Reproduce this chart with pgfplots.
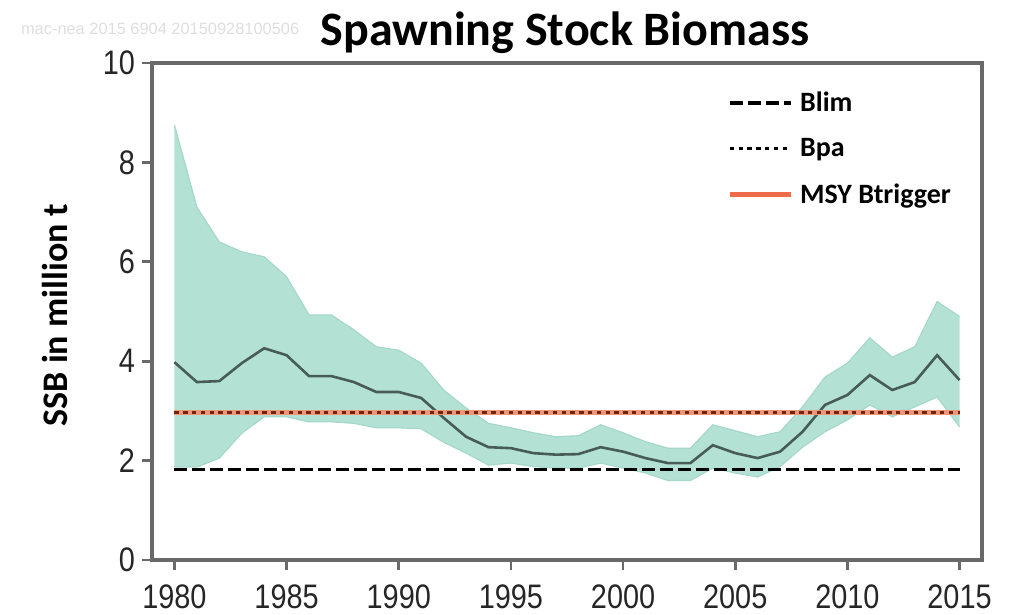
\documentclass[border=0pt]{standalone}
\usepackage{fontspec}
\setmainfont{Carlito}
\newfontfamily\tickfont[FakeStretch=0.85]{Liberation Sans}
\newfontfamily\notefont{Liberation Sans}
\usepackage{pgfplots}
\pgfplotsset{compat=1.18}
\usepgfplotslibrary{fillbetween}
\usepackage{pgfplotstable}

\definecolor{band}{RGB}{179,226,213}
\definecolor{bandedge}{RGB}{165,216,201}
\definecolor{midc}{RGB}{72,92,86}
\definecolor{msy}{RGB}{238,108,72}
\definecolor{msypale}{RGB}{240,150,120}
\definecolor{bpadot}{RGB}{110,38,20}
\definecolor{spine}{RGB}{105,105,105}

\pgfplotstableread{
year lo mid hi
1980 1.87 3.98 8.75
1981 1.87 3.58 7.10
1982 2.05 3.60 6.40
1983 2.55 3.96 6.20
1984 2.88 4.26 6.10
1985 2.88 4.12 5.70
1986 2.78 3.70 4.93
1987 2.78 3.70 4.93
1988 2.75 3.58 4.63
1989 2.66 3.38 4.29
1990 2.66 3.38 4.22
1991 2.64 3.26 3.96
1992 2.37 2.86 3.42
1993 2.15 2.48 3.06
1994 1.91 2.27 2.75
1995 1.95 2.25 2.66
1996 1.88 2.15 2.56
1997 1.85 2.12 2.48
1998 1.85 2.13 2.50
1999 1.95 2.27 2.72
2000 1.85 2.18 2.56
2001 1.75 2.05 2.38
2002 1.60 1.95 2.25
2003 1.60 1.95 2.25
2004 1.85 2.31 2.72
2005 1.75 2.15 2.60
2006 1.67 2.05 2.48
2007 1.88 2.18 2.58
2008 2.27 2.58 3.08
2009 2.58 3.12 3.68
2010 2.82 3.32 3.96
2011 3.12 3.72 4.47
2012 2.88 3.42 4.08
2013 3.08 3.58 4.29
2014 3.28 4.12 5.20
2015 2.68 3.62 4.90
}\ssb

\begin{document}
\begin{tikzpicture}
\begin{axis}[
  at={(0pt,0pt)}, anchor=south west,
  scale only axis, width=415pt, height=248.5pt,
  xmin=1979, xmax=2016, ymin=0, ymax=10,
  xtick={1980,1985,...,2015}, ytick={0,2,...,10},
  /pgf/number format/1000 sep={},
  /pgf/number format/assume math mode=true,
  tick label style={font=\tickfont\fontsize{17}{17}\selectfont, text=black!85},
  xticklabel style={yshift=-4pt},
  tick pos=left, tick align=outside, major tick length=5pt,
  tick style={spine, line width=1.4pt},
  axis line style={spine, line width=1.8pt},
  title={Spawning Stock Biomass},
  title style={at={(axis description cs:0.4976,1.012)}, anchor=base, font=\bfseries\fontsize{24}{24}\selectfont},
  ylabel={SSB in million t},
  ylabel style={at={(axis description cs:-0.117,0.493)}, anchor=center, font=\bfseries\fontsize{18}{18}\selectfont},
  legend style={at={(axis description cs:0.6928,0.951)}, anchor=north west, draw=none, fill=none,
    font=\bfseries\fontsize{14}{14}\selectfont, row sep=8pt, column sep=1.5pt, inner sep=0pt},
  legend cell align=left,
  legend image code/.code={\draw[#1] (0pt,0pt) -- (30.5pt,0pt);},
]
\addplot[name path=hi, bandedge, line width=0.6pt, forget plot] table[x=year,y=hi]{\ssb};
\addplot[name path=lo, bandedge, line width=0.6pt, forget plot] table[x=year,y=lo]{\ssb};
\addplot[fill=band, draw=none, forget plot] fill between[of=hi and lo];
\addplot[midc, line width=1.3pt, forget plot] table[x=year,y=mid]{\ssb};
\addplot[msypale, line width=2.6pt, forget plot] coordinates {(1980,2.97) (2015,2.97)};
\addplot[bpadot, line width=1.5pt, dash pattern=on 2.2pt off 2.2pt, forget plot] coordinates {(1980,2.97) (2015,2.97)};
\addplot[black, line width=1.6pt, dash pattern=on 6.5pt off 2.5pt, forget plot] coordinates {(1980,1.82) (2015,1.82)};
\addlegendimage{black, line width=1.6pt, dash pattern=on 6.5pt off 2.5pt}
\addlegendentry{Blim}
\addlegendimage{black, line width=1.5pt, dash pattern=on 2.2pt off 2.2pt}
\addlegendentry{Bpa}
\addlegendimage{msy, line width=2.4pt}
\addlegendentry{MSY Btrigger}
\end{axis}
\node[anchor=west, text=black!13, font=\notefont\fontsize{8.2}{8.2}\selectfont] at (-69pt,265.5pt) {mac-nea 2015 6904 20150928100506};
\pgfresetboundingbox
\useasboundingbox (-76pt,-27.5pt) rectangle (429.5pt,280pt);
\end{tikzpicture}
\end{document}
